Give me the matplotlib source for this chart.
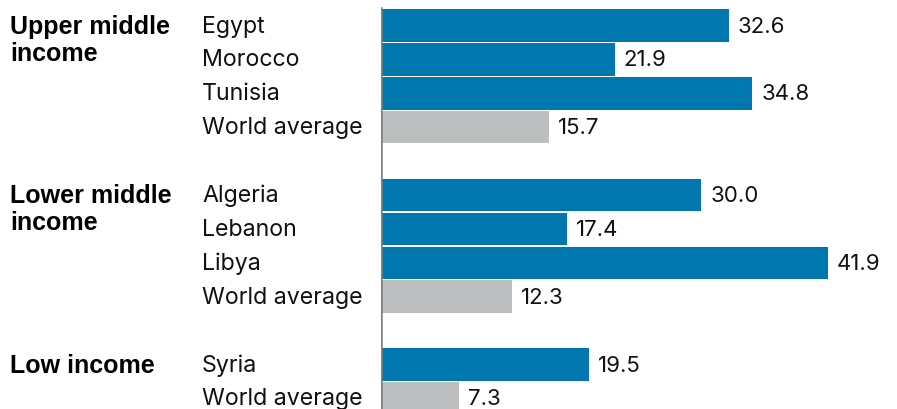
import numpy as np
import matplotlib.pyplot as plt
import matplotlib.transforms as mtransforms

plt.rcParams['font.family'] = ['Inter', 'Liberation Sans', 'DejaVu Sans']

countries = ["Egypt", "Morocco", "Tunisia", "World average",
             "Algeria", "Lebanon", "Libya", "World average",
             "Syria", "World average"]
values = [32.6, 21.9, 34.8, 15.7, 30.0, 17.4, 41.9, 12.3, 19.5, 7.3]
is_avg = [False, False, False, True, False, False, False, True, False, True]
positions = [0, 1, 2, 3, 5, 6, 7, 8, 10, 11]
groups = [["Upper middle", "income"], ["Lower middle", "income"], ["Low income"]]
group_pos = [0, 5, 10]

blue = "#0077ae"
grey = "#bdbec0"

W, H = 897, 409
fig = plt.figure(figsize=(W / 100, H / 100), dpi=100)
x0 = 381
ax = fig.add_axes([x0 / W, 0, 1 - x0 / W, 1])

row = 33.9
y_top = 25.5
ax.set_ylim((H - y_top) / row, -y_top / row)
ax.set_xlim(0, (W - x0) / 10.67)

colors = [grey if a else blue for a in is_avg]
ax.barh(positions, values, height=0.96, color=colors, linewidth=0)
for p, v in zip(positions, values):
    ax.text(v + 0.85, p + 0.03, f"{v:.1f}", va="center", ha="left", fontsize=16, color="#111111")

# country labels and group labels in figure pixel x
trans = mtransforms.blended_transform_factory(fig.transFigure, ax.transData)
for p, c in zip(positions, countries):
    ax.text(202 / W, p + 0.03, c, transform=trans, va="center", ha="left", fontsize=16.7,
            color="#111111", clip_on=False)
for p, g in zip(group_pos, groups):
    for k, line in enumerate(g):
        ax.text(10 / W, p + 0.03 + k * 27 / row, line, transform=trans, va="center", ha="left",
                fontsize=18, fontweight="bold", family="Liberation Sans",
                color="#000000", clip_on=False)

ax.axvline(0, ymin=0, ymax=1 - 8 / H, color="#808080", lw=1.8)
ax.axis("off")

fig.savefig("out.png", dpi=100)
